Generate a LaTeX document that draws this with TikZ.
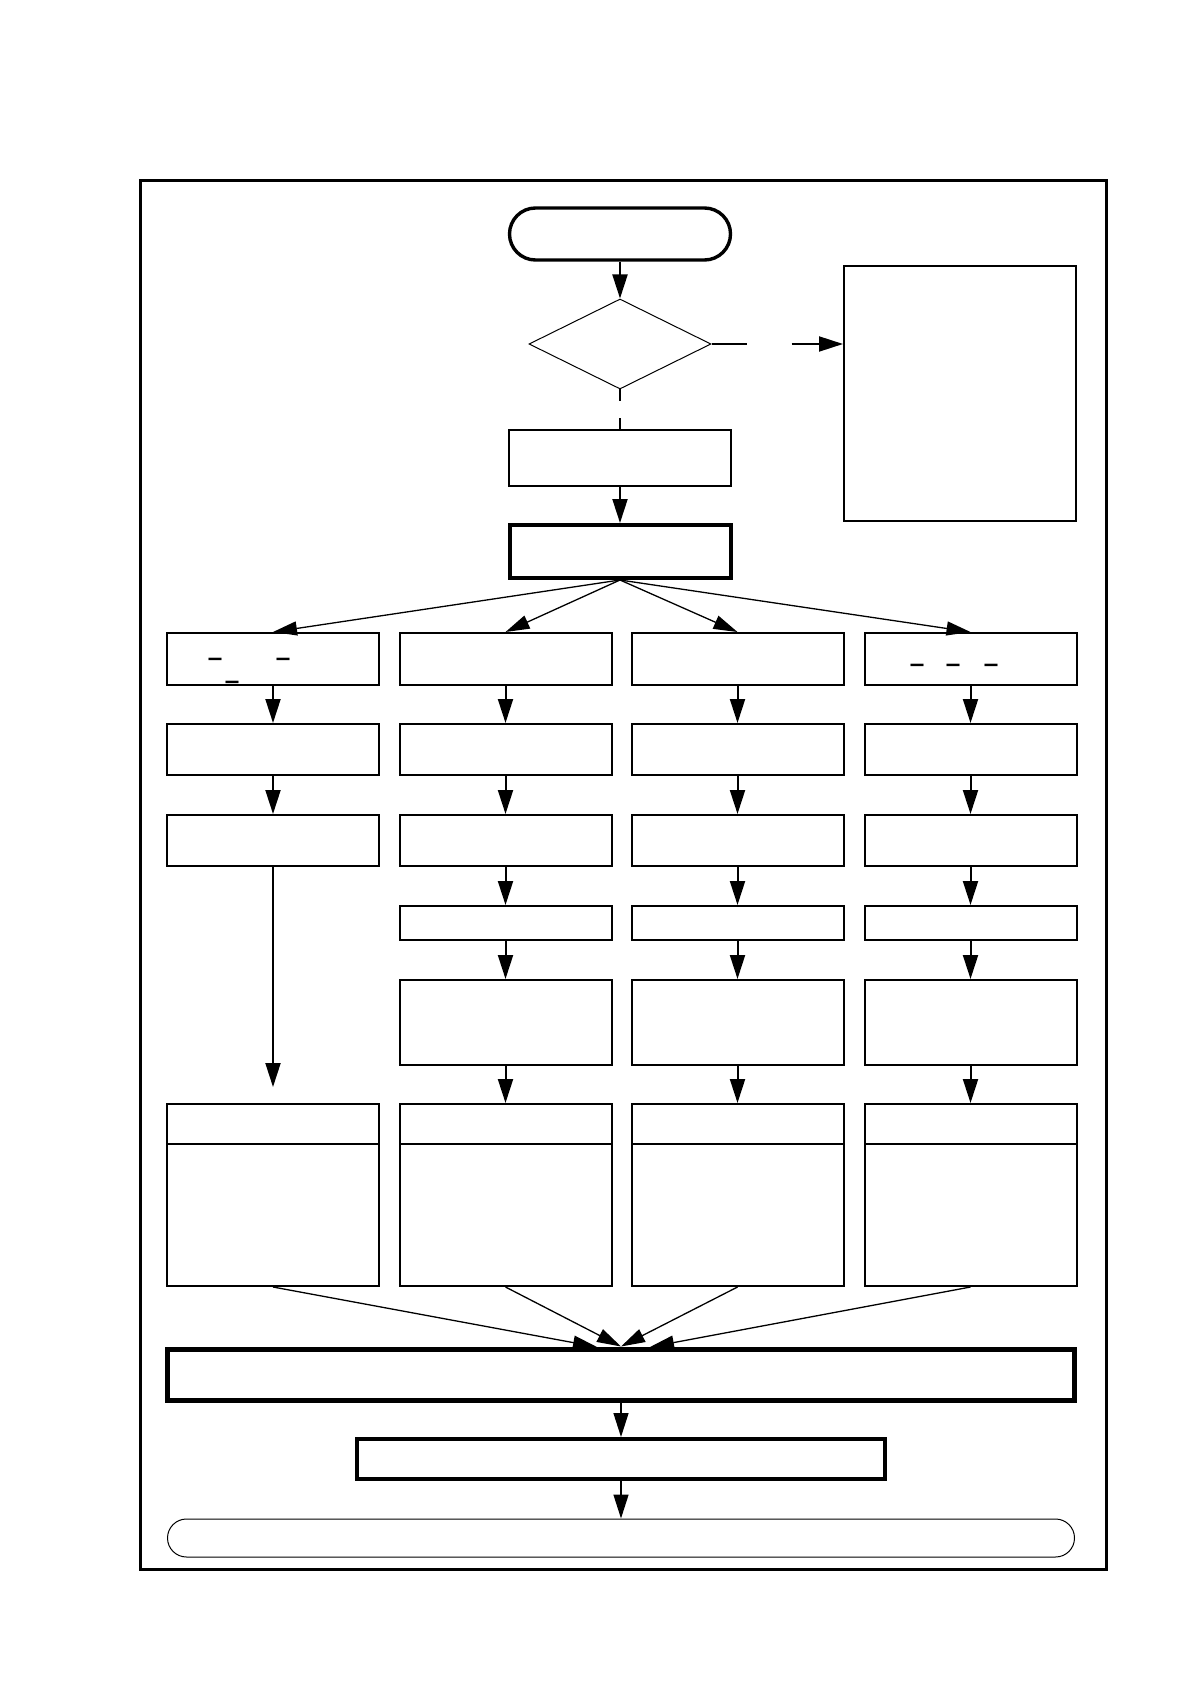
\documentclass[tikz,border=0pt]{standalone}
\usepackage{fontspec}
\newfontfamily\usfont{DejaVu Sans}
\usetikzlibrary{arrows.meta,shapes.geometric}
\begin{document}
\begin{tikzpicture}[x=0.5pt,y=-0.5pt,
  bx/.style={draw, rectangle, line width=1pt, minimum width=106pt, inner sep=0pt, fill=white},
  hdr/.style={bx, path picture={\draw[line width=0.8pt] ([yshift=-20pt]path picture bounding box.north west) -- ([yshift=-20pt]path picture bounding box.north east);}},
  arr/.style={-{Triangle[length=12pt,width=7.5pt]}, line width=1pt},
  farr/.style={-{Triangle[length=12pt,width=7pt]}, line width=0.65pt},
  us/.style={inner sep=0pt, font=\usfont\bfseries\fontsize{13}{15}\selectfont}
]
\useasboundingbox (0,0) rectangle (1188,1684);
\draw[line width=1.5pt] (140,181) rectangle (1106,1569);

% main column top
\node[draw, line width=1.7pt, rounded corners=13pt, minimum width=110.5pt, minimum height=26pt, inner sep=0pt] (start) at (620,234) {};
\node[draw, diamond, line width=0.5pt, minimum width=91pt, minimum height=45pt, inner sep=0pt] (dia) at (620,344) {};
\node[draw, rectangle, line width=0.75pt, minimum width=111pt, minimum height=28pt, inner sep=0pt] (ba) at (620,458) {};
\node[draw, rectangle, line width=2pt, minimum width=110.5pt, minimum height=26.5pt, inner sep=0pt] (thick) at (620,551.5) {};
\node[draw, rectangle, line width=1pt, minimum width=116pt, minimum height=127.5pt, inner sep=0pt] (rbox) at (960,393.5) {};

\draw[arr] (start.south) -- (dia.north);
\draw[line width=0.6pt, dash pattern=on 6pt off 8.5pt on 20pt] (dia.south) -- (ba.north);
\draw[arr, dash pattern=on 17.5pt off 22.5pt on 60pt] (dia.east) -- (dia.east -| rbox.west);
\draw[arr] (ba.south) -- (thick.north);

% columns
\foreach \i/\cx in {1/273,2/505.5,3/737.5,4/970.5}{
  \node[bx, minimum height=26pt] (c\i r1) at (\cx,659) {};
  \node[bx, minimum height=25.5pt] (c\i r2) at (\cx,749.5) {};
  \node[bx, minimum height=25.5pt] (c\i r3) at (\cx,840.5) {};
  \node[hdr, minimum height=91pt] (c\i r6) at (\cx,1195) {};
  \draw[farr] (thick.south) -- (c\i r1.north);
  \draw[arr] (c\i r1.south) -- (c\i r2.north);
  \draw[arr] (c\i r2.south) -- (c\i r3.north);
}
\foreach \i/\cx in {2/505.5,3/737.5,4/970.5}{
  \node[bx, minimum height=17pt] (c\i r4) at (\cx,923) {};
  \node[bx, minimum height=42.5pt] (c\i r5) at (\cx,1022.5) {};
  \draw[arr] (c\i r3.south) -- (c\i r4.north);
  \draw[arr] (c\i r4.south) -- (c\i r5.north);
  \draw[arr] (c\i r5.south) -- (c\i r6.north);
}
\coordinate (c1end) at (273,1087);
\draw[arr] (c1r3.south) -- (c1end);

% underscore glyphs visible in the reference
\node[us] (u1) at (215,658) {\_};
\node[us] (u2) at (283,658) {\_};
\node[us] (u3) at (232,681) {\_};
\node[us] (u4) at (917,664) {\_};
\node[us] (u5) at (953,664) {\_};
\node[us] (u6) at (991,664) {\_};

% bottom
\node[draw, rectangle, line width=2.5pt, minimum width=453.5pt, minimum height=25.5pt, inner sep=0pt] (big) at (621,1374.5) {};
\node[draw, rectangle, line width=2pt, minimum width=264pt, minimum height=20pt, inner sep=0pt] (bb) at (621,1459) {};
\node[draw, line width=0.5pt, rounded corners=9.5pt, minimum width=453.5pt, minimum height=19pt, inner sep=0pt] (fin) at (621,1538) {};

\coordinate (fl) at (597,1347);
\coordinate (fr) at (650,1347);
\draw[farr] (c1r6.south) -- (fl);
\draw[farr] (c2r6.south) -- (big.north);
\draw[farr] (c3r6.south) -- (big.north);
\draw[farr] (c4r6.south) -- (fr);
\draw[arr, line width=0.7pt] (big.south) -- (bb.north);
\draw[arr, line width=0.7pt] (bb.south) -- (fin.north);
\end{tikzpicture}
\end{document}
